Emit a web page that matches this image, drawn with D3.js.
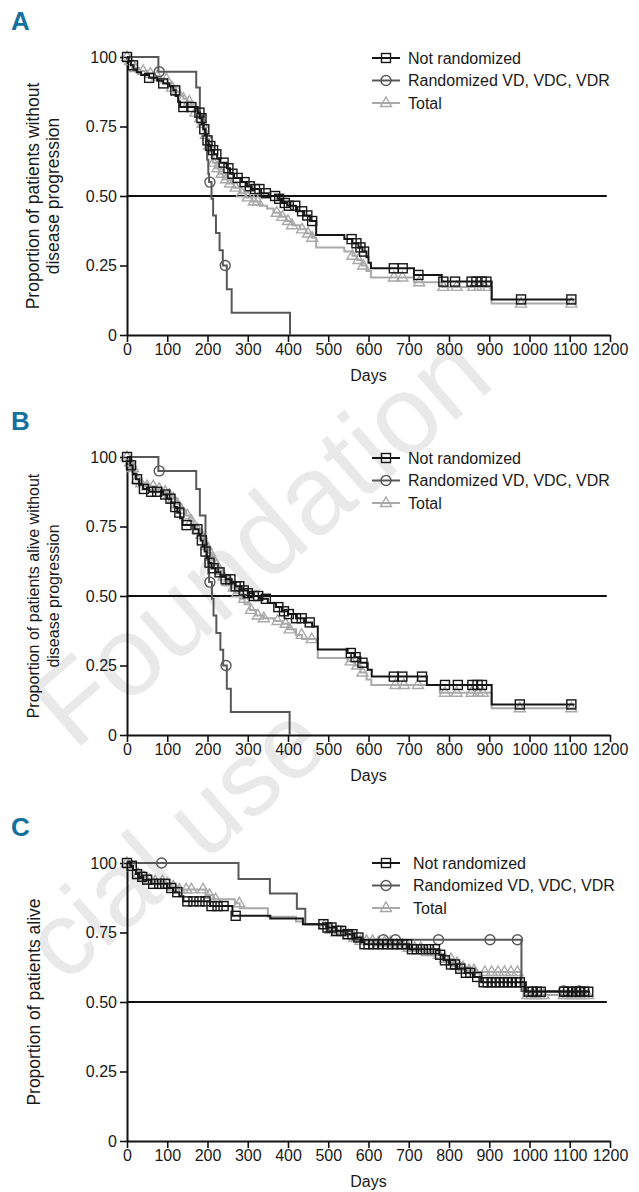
<!DOCTYPE html>
<html>
<head>
<meta charset="utf-8">
<script src="https://cdn.jsdelivr.net/npm/d3@7"></script>
<style>
  body { margin: 0; background: #fff; }
  text { font-family: "Liberation Sans", Arial, sans-serif; }
</style>
</head>
<body>
<script>
// Kaplan-Meier curves, three panels (A, B, C)

//tick values and labels
var dayTicks = [0, 100, 200, 300, 400, 500, 600, 700, 800, 900, 1000, 1100, 1200];
var propTicks = [0, 0.25, 0.5, 0.75, 1];
var propLabels = ["0", "0.25", "0.50", "0.75", "100"];
var seriesNames = ["Not randomized", "Randomized VD, VDC, VDR", "Total"];

//panel A: steps are [day, proportion], censored are days, end is last follow-up day
var notA = [[0,1],[4,0.985],[10,0.97],[16,0.955],[24,0.945],[35,0.935],[55,0.925],[75,0.915],[90,0.905],[105,0.895],[115,0.88],[121,0.86],[127,0.84],[132,0.82],[176,0.80],[181,0.78],[186,0.76],[190,0.74],[194,0.72],[198,0.70],[203,0.68],[209,0.665],[216,0.65],[224,0.635],[232,0.62],[248,0.60],[256,0.58],[266,0.565],[284,0.55],[298,0.535],[310,0.525],[330,0.51],[352,0.50],[374,0.49],[385,0.475],[398,0.465],[420,0.445],[440,0.43],[455,0.41],[470,0.36],[540,0.345],[560,0.33],[575,0.315],[585,0.30],[595,0.28],[600,0.26],[606,0.24],[713,0.216],[782,0.192],[906,0.128]];
var notACens = [0,15,55,90,120,140,160,180,185,192,200,207,214,222,240,252,262,275,292,305,318,329,345,368,378,392,402,418,435,448,460,558,570,580,589,663,685,724,786,815,856,868,881,893,979,1104];
var notAEnd = 1112;
var rndA = [[0,1],[78,0.947],[172,0.89],[181,0.79],[190,0.74],[196,0.685],[199,0.63],[202,0.58],[204,0.55],[210,0.49],[214,0.43],[221,0.367],[230,0.305],[238,0.25],[248,0.165],[260,0.08],[405,0]];
var rndACens = [80, 206, 244];
var rndAEnd = 405;
var totA = [[0,1],[5,0.985],[10,0.97],[18,0.96],[30,0.95],[50,0.94],[70,0.93],[85,0.92],[100,0.905],[110,0.89],[120,0.875],[130,0.86],[140,0.85],[150,0.84],[160,0.82],[170,0.80],[178,0.78],[184,0.76],[190,0.74],[194,0.72],[198,0.70],[202,0.68],[206,0.66],[210,0.64],[214,0.62],[220,0.60],[228,0.58],[238,0.56],[250,0.545],[265,0.53],[280,0.51],[295,0.495],[310,0.48],[330,0.465],[348,0.455],[364,0.44],[380,0.425],[395,0.41],[410,0.395],[430,0.38],[445,0.365],[460,0.35],[470,0.315],[540,0.30],[560,0.285],[572,0.27],[583,0.25],[595,0.23],[606,0.207],[713,0.19],[782,0.173],[906,0.113]];
var totACens = [0,8,20,40,58,75,98,112,125,140,155,170,182,188,196,204,215,225,235,246,256,270,285,300,315,325,372,386,400,410,435,450,460,560,575,587,663,684,726,786,819,860,875,890,979,1104];
var totAEnd = 1112;

//panel B
var notB = [[0,1],[8,0.97],[14,0.94],[22,0.92],[30,0.90],[40,0.885],[55,0.875],[90,0.865],[100,0.85],[110,0.835],[118,0.82],[125,0.80],[132,0.78],[138,0.755],[168,0.74],[178,0.72],[183,0.70],[188,0.68],[193,0.66],[198,0.64],[203,0.62],[210,0.60],[220,0.585],[232,0.57],[245,0.56],[260,0.55],[270,0.535],[285,0.52],[300,0.51],[315,0.50],[330,0.49],[350,0.475],[370,0.46],[385,0.445],[400,0.435],[420,0.42],[440,0.405],[460,0.39],[474,0.308],[548,0.295],[565,0.28],[580,0.26],[598,0.235],[608,0.21],[745,0.18],[906,0.11]];
var notBCens = [0,10,25,42,60,75,95,108,120,130,148,175,186,195,205,215,230,245,257,270,279,290,300,315,326,345,376,390,402,420,434,454,556,568,585,663,684,733,790,822,858,871,882,976,1104];
var notBEnd = 1112;
var rndB = [[0,1],[78,0.95],[172,0.885],[181,0.79],[195,0.69],[199,0.63],[202,0.58],[204,0.55],[211,0.49],[215,0.43],[222,0.367],[232,0.307],[239,0.25],[248,0.166],[258,0.083],[404,0]];
var rndBCens = [80, 206, 246];
var rndBEnd = 404;
var totB = [[0,1],[5,0.98],[10,0.96],[18,0.94],[25,0.92],[35,0.905],[50,0.895],[70,0.885],[90,0.875],[105,0.865],[115,0.85],[125,0.83],[135,0.81],[145,0.79],[155,0.77],[165,0.755],[175,0.74],[182,0.72],[190,0.70],[197,0.68],[203,0.655],[210,0.63],[218,0.61],[228,0.59],[238,0.57],[248,0.55],[258,0.53],[268,0.51],[280,0.49],[292,0.47],[305,0.45],[320,0.43],[340,0.42],[365,0.41],[385,0.40],[400,0.38],[420,0.36],[435,0.345],[474,0.277],[548,0.265],[565,0.25],[580,0.225],[595,0.20],[607,0.18],[777,0.152],[906,0.096]];
var totBCens = [0,8,15,25,35,50,65,80,95,105,115,125,135,150,160,175,185,198,206,215,223,232,240,250,257,265,274,291,308,325,340,374,394,404,434,459,556,572,585,667,688,723,790,819,856,872,884,976,1104];
var totBEnd = 1112;

//panel C
var notC = [[0,1],[8,0.99],[15,0.975],[22,0.96],[30,0.95],[40,0.94],[60,0.925],[100,0.91],[115,0.895],[130,0.88],[140,0.862],[206,0.845],[262,0.81],[356,0.80],[437,0.78],[495,0.768],[520,0.756],[543,0.744],[565,0.732],[582,0.715],[590,0.708],[701,0.69],[776,0.67],[786,0.65],[800,0.635],[820,0.62],[840,0.605],[860,0.59],[880,0.571],[991,0.537]];
var notCCens = [0,12,25,38,50,65,80,95,110,125,150,165,180,195,210,225,240,270,488,498,508,520,532,548,560,575,590,600,612,624,636,648,660,672,684,696,708,720,735,750,765,778,790,805,815,828,842,853,870,886,896,906,916,926,936,946,956,966,976,998,1008,1018,1028,1086,1096,1106,1116,1126,1136,1146];
var notCEnd = 1150;
var rndC = [[0,1],[277,0.942],[355,0.89],[422,0.835],[443,0.78],[500,0.755],[560,0.724],[980,0.54]];
var rndCCens = [86,637,667,774,902,970,1085,1123];
var rndCEnd = 1148;
var totC = [[0,1],[8,0.985],[15,0.975],[25,0.96],[35,0.95],[50,0.94],[70,0.935],[90,0.925],[110,0.915],[130,0.905],[195,0.885],[215,0.87],[268,0.855],[280,0.837],[350,0.807],[420,0.79],[437,0.78],[480,0.775],[500,0.76],[520,0.75],[540,0.74],[560,0.73],[580,0.72],[620,0.715],[660,0.705],[700,0.695],[740,0.68],[770,0.67],[790,0.655],[810,0.64],[830,0.625],[850,0.615],[870,0.608],[978,0.56],[985,0.525]];
var totCCens = [0,14,28,42,56,70,88,100,115,130,147,160,189,205,220,279,490,505,520,535,550,565,580,595,610,625,640,655,670,685,700,715,730,745,760,775,790,805,820,835,850,862,889,906,922,938,954,970,995,1005,1015,1025,1035,1085,1095,1105,1115,1125,1135,1145];
var totCEnd = 1150;

//page size
var width = 639,
    height = 1192;

var svg = d3.select("body")
    .append("svg")
    .attr("width", width)
    .attr("height", height);

//faint watermark behind the charts
svg.append("text")
    .attr("transform", "translate(74,752) rotate(-41)")
    .attr("font-size", 112)
    .attr("fill", "#e9e9e9")
    .text("Foundation");
svg.append("text")
    .attr("transform", "translate(64,985) rotate(-41)")
    .attr("font-size", 105)
    .attr("fill", "#e9e9e9")
    .text("cial use");

//series styles, drawn in this order (lightest first)
var styles = {
    tot: {color: "#a9a9a9", marker: "triangle"},
    rnd: {color: "#585858", marker: "circle"},
    not: {color: "#161616", marker: "square"}
};

var panels = [
    {letter: "A", top: 57, bottom: 335, legendY: 58, legendText: 408, titleSize: 17.5,
     title: ["Proportion of patients without", "disease progression"],
     not: [notA, notACens, notAEnd], rnd: [rndA, rndACens, rndAEnd], tot: [totA, totACens, totAEnd]},
    {letter: "B", top: 457, bottom: 735, legendY: 458, legendText: 408, titleSize: 16,
     title: ["Proportion of patients alive without", "disease progression"],
     not: [notB, notBCens, notBEnd], rnd: [rndB, rndBCens, rndBEnd], tot: [totB, totBCens, totBEnd]},
    {letter: "C", top: 863, bottom: 1141, legendY: 863, legendText: 413, titleSize: 17.5,
     title: ["Proportion of patients alive"],
     not: [notC, notCCens, notCEnd], rnd: [rndC, rndCCens, rndCEnd], tot: [totC, totCCens, totCEnd]}
];

var x = d3.scaleLinear()
    .domain([0, 1200])
    .range([127, 610]);

//survival value at a given day from a step list
function survAt(steps, t){
    var s = steps[0][1];
    steps.forEach(function(p){ if (p[0] <= t) s = p[1]; });
    return s;
}

//draw one censor marker
function drawMarker(g, type, cx, cy, color){
    if (type == "square"){
        g.append("rect")
            .attr("x", cx - 4.5).attr("y", cy - 4.5)
            .attr("width", 9).attr("height", 9)
            .attr("fill", "none").attr("stroke", color).attr("stroke-width", 1.4);
    } else if (type == "circle"){
        g.append("circle")
            .attr("cx", cx).attr("cy", cy).attr("r", 5)
            .attr("fill", "none").attr("stroke", color).attr("stroke-width", 1.4);
    } else {
        g.append("path")
            .attr("d", "M" + cx + "," + (cy - 6) + "L" + (cx + 5.5) + "," + (cy + 3.5) + "L" + (cx - 5.5) + "," + (cy + 3.5) + "Z")
            .attr("fill", "none").attr("stroke", color).attr("stroke-width", 1.4);
    }
}

panels.forEach(function(p){
    var y = d3.scaleLinear()
        .domain([0, 1])
        .range([p.bottom, p.top]);

    var g = svg.append("g").attr("class", "panel");

    //panel letter
    g.append("text")
        .attr("x", 11)
        .attr("y", p.top - 27)
        .attr("font-size", 26)
        .attr("font-weight", "bold")
        .attr("fill", "#13709f")
        .style("font-family", "'Liberation Sans Narrow', 'Liberation Sans', sans-serif")
        .text(p.letter);

    //x axis
    var xAxis = g.append("g")
        .attr("transform", "translate(0," + p.bottom + ")")
        .call(d3.axisBottom(x).tickValues(dayTicks).tickSize(7).tickSizeOuter(0).tickPadding(2)
            .tickFormat(d3.format("d")));

    //y axis
    var yAxis = g.append("g")
        .attr("transform", "translate(" + x(0) + ",0)")
        .call(d3.axisLeft(y).tickValues(propTicks).tickSize(7).tickSizeOuter(0).tickPadding(3)
            .tickFormat(function(d, i){ return propLabels[i]; }));

    [xAxis, yAxis].forEach(function(a){
        a.selectAll("path").attr("stroke", "#111").attr("stroke-width", 2);
        a.selectAll("line").attr("stroke", "#111").attr("stroke-width", 1.6);
        a.selectAll("text")
            .attr("font-size", 16)
            .attr("fill", "#1a1a1a")
            .style("font-family", "'Liberation Sans', Arial, sans-serif");
    });

    //x axis title
    g.append("text")
        .attr("x", (x(0) + x(1200)) / 2)
        .attr("y", p.bottom + 46)
        .attr("text-anchor", "middle")
        .attr("font-size", 16)
        .attr("fill", "#1a1a1a")
        .text("Days");

    //y axis title, one or two lines
    var midY = (p.top + p.bottom) / 2;
    p.title.forEach(function(line, i){
        var tx = p.title.length == 1 ? 40 : 38.5 + i * 20;
        g.append("text")
            .attr("transform", "translate(" + tx + "," + midY + ") rotate(-90)")
            .attr("text-anchor", "middle")
            .attr("font-size", p.titleSize)
            .attr("fill", "#1a1a1a")
            .text(line);
    });

    //median reference line
    g.append("line")
        .attr("x1", x(0)).attr("x2", x(1192))
        .attr("y1", y(0.5)).attr("y2", y(0.5))
        .attr("stroke", "#111").attr("stroke-width", 2);

    var line = d3.line()
        .x(function(d){ return x(d[0]); })
        .y(function(d){ return y(d[1]); })
        .curve(d3.curveStepAfter);

    ["tot", "rnd", "not"].forEach(function(key){
        var steps = p[key][0],
            cens = p[key][1],
            end = p[key][2],
            st = styles[key];
        var pts = steps.slice();
        var last = pts[pts.length - 1];
        if (last[0] < end) pts.push([end, last[1]]);

        g.append("path")
            .datum(pts)
            .attr("fill", "none")
            .attr("stroke", st.color)
            .attr("stroke-width", 2)
            .attr("d", line);

        var mg = g.append("g").attr("class", "censor-" + key);
        cens.forEach(function(t){
            drawMarker(mg, st.marker, x(t), y(survAt(steps, t)), st.color);
        });
    });

    //legend
    var lg = g.append("g").attr("class", "legend");
    ["not", "rnd", "tot"].forEach(function(key, i){
        var ly = p.legendY + i * 22.5,
            st = styles[key];
        lg.append("line")
            .attr("x1", 372).attr("x2", 400)
            .attr("y1", ly).attr("y2", ly)
            .attr("stroke", st.color).attr("stroke-width", 2);
        drawMarker(lg, st.marker, 386, ly, st.color);
        lg.append("text")
            .attr("x", p.legendText)
            .attr("y", ly)
            .attr("dy", "0.36em")
            .attr("font-size", 16)
            .attr("fill", "#1a1a1a")
            .text(seriesNames[i]);
    });
});
</script>
</body>
</html>
